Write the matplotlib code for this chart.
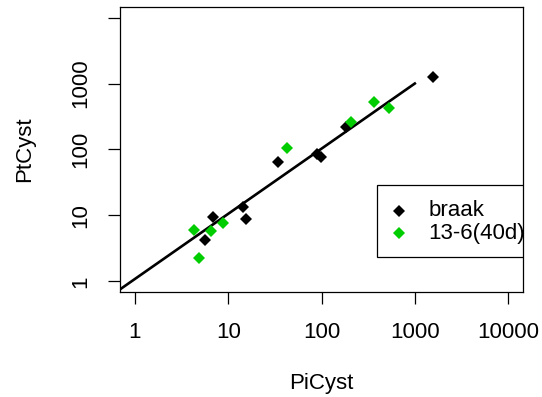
"""PtCyst vs PiCyst on log-log axes, two groups plus fitted line."""

import matplotlib

matplotlib.use("Agg")
import matplotlib.pyplot as plt
from matplotlib.patches import Rectangle

# data
braak_x = [1549, 90, 98, 185, 34, 14.3, 15.5, 6.8, 5.6]
braak_y = [1262, 85, 76, 221, 64, 13.3, 8.9, 9.6, 4.2]
grp_x = [4.3, 4.9, 6.6, 8.7, 43, 205, 367, 531]
grp_y = [6.05, 2.26, 5.9, 7.8, 104, 264, 529, 420]
fit_x = [0.5, 1000]
fit_y = [0.55, 1000]

ticks = [1, 10, 100, 1000, 10000]
xtick_labels = ["1", "10", "100", "1000", "10000"]
ytick_labels = ["1", "10", "100", "1000", ""]
legend_labels = ["braak", "13-6(40d)"]

GREEN = "#00CD00"
FS = 16


def main() -> None:
    plt.rcParams["font.family"] = ["Liberation Sans", "DejaVu Sans"]

    fig = plt.figure(figsize=(5.42, 3.97), dpi=100)
    ax = fig.add_axes([0.2214, 0.2645, 0.965 - 0.2214, 0.9824 - 0.2645])

    ax.plot(fit_x, fit_y, color="black", linewidth=1.9)
    ax.plot(braak_x, braak_y, "D", color="black", markersize=6.5, markeredgewidth=0)
    ax.plot(grp_x, grp_y, "D", color=GREEN, markersize=6.5, markeredgewidth=0)

    ax.set_xscale("log")
    ax.set_yscale("log")
    lo, hi = 10 ** -0.16, 10 ** 4.16
    ax.set_xlim(lo, hi)
    ax.set_ylim(lo, hi)
    ax.set_xticks(ticks)
    ax.set_xticklabels(xtick_labels)
    ax.set_yticks(ticks)
    ax.set_yticklabels(ytick_labels, rotation=90, va="center")
    ax.minorticks_off()
    ax.tick_params(direction="out", length=8.6, width=0.9, labelsize=FS, pad=12)
    ax.tick_params(axis="x", pad=13)
    for s in ax.spines.values():
        s.set_linewidth(0.9)

    ax.set_xlabel("PiCyst", fontsize=FS)
    ax.xaxis.set_label_coords(0.5, -0.3225)
    ax.xaxis.label.set_va("center")
    ax.set_ylabel("PtCyst", fontsize=FS)
    ax.yaxis.set_label_coords(-0.2356, 0.5)
    ax.yaxis.label.set_va("center")

    # legend, clipped at the plot region as in the original
    box = Rectangle((0.638, 0.122), 0.6, 0.375 - 0.122, transform=ax.transAxes,
                    facecolor="white", edgecolor="black", linewidth=0.9, clip_on=True)
    ax.add_patch(box)
    for yy, col, lab in zip([0.285, 0.2057], ["black", GREEN], legend_labels):
        ax.plot([0.6925], [yy], "D", color=col, markersize=6.5, markeredgewidth=0,
                transform=ax.transAxes, clip_on=True)
        ax.text(0.7645, yy, lab, transform=ax.transAxes, fontsize=FS,
                va="center", ha="left", clip_on=True)

    fig.savefig("out.png", dpi=100)
    plt.close(fig)


if __name__ == "__main__":
    main()
